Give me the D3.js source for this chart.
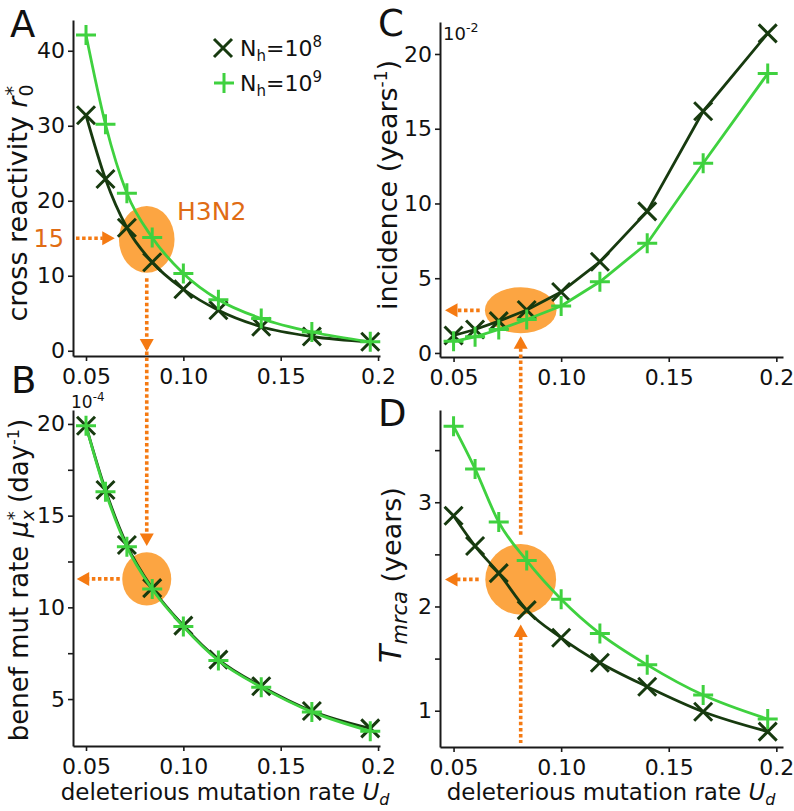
<!DOCTYPE html>
<html><head><meta charset="utf-8">
<script src="https://cdn.jsdelivr.net/npm/d3@7"></script>
<style>body{margin:0;background:#fff} text{font-family:"DejaVu Sans",sans-serif}</style>
</head><body><svg id="c" width="794" height="811"></svg>
<script>
// ---------------- data ----------------
const udValues = [0.05, 0.06, 0.071, 0.084, 0.1, 0.118, 0.14, 0.166, 0.196];
const seriesLabels = ["8", "9"]; // N_h = 10^8, 10^9
const crossReactivityN8 = [31.4, 22.9, 16.4, 11.8, 8.2, 5.4, 3.2, 1.9, 1.2];
const crossReactivityN9 = [42.1, 30.2, 21.0, 15.1, 10.3, 6.8, 4.3, 2.5, 1.2];
const benefMutN8 = [19.9, 16.4, 13.4, 11.05, 9.0, 7.15, 5.7, 4.35, 3.4];
const benefMutN9 = [19.9, 16.3, 13.3, 11.0, 8.95, 7.1, 5.65, 4.3, 3.25];
const incidenceN8 = [1.17, 1.57, 2.13, 2.87, 4.08, 6.1, 9.47, 16.17, 21.38];
const incidenceN9 = [0.78, 1.08, 1.57, 2.24, 3.14, 4.76, 7.34, 12.69, 18.69];
const tmrcaN8 = [2.87, 2.58, 2.32, 1.965, 1.70, 1.46, 1.23, 0.99, 0.80];
const tmrcaN9 = [3.73, 3.32, 2.81, 2.44, 2.07, 1.74, 1.44, 1.15, 0.92];

const xTickValues = [0.05, 0.10, 0.15, 0.2];
const xTickLabels = ["0.05", "0.10", "0.15", "0.2"];
const yTicksA = [0, 10, 20, 30, 40];
const yTicksB = [5, 10, 15, 20];
const yMinorB = [7.5, 12.5, 17.5];
const yTicksC = [0, 5, 10, 15, 20];
const yTicksD = [1, 2, 3];
const yMinorD = [1.5, 2.5, 3.5];

// H3N2 annotation values
const h3n2Ud = 0.0812;
const h3n2R0 = 15;
const h3n2Mu = 11.55;
const h3n2Inc = 2.85;
const h3n2Tmrca = 2.26;

// ---------------- style ----------------
const darkColor = "#173a0f", lightColor = "#3fd13f";
const blobColor = "#fca542", arrowColor = "#f57a12", annTextColor = "#e06c14";
const axisColor = "#1a1a1a";
const svg = d3.select("#c");

function panel(cfg) {
  const x = d3.scaleLinear().domain(cfg.xd).range([cfg.l, cfg.r]);
  const y = d3.scaleLinear().domain(cfg.yd).range([cfg.b, cfg.t]);
  return {x, y, cfg};
}

const A = panel({l:73, r:380, t:20, b:356, xd:[0.04332, 0.2010], yd:[-0.7, 44.1]});
const B = panel({l:73, r:380, t:410, b:746, xd:[0.04332, 0.2010], yd:[2.44, 20.76]});
const C = panel({l:440, r:783, t:22, b:357, xd:[0.0437, 0.2031], yd:[-0.27, 22.14]});
const D = panel({l:440, r:783, t:410, b:747, xd:[0.0437, 0.2031], yd:[0.652, 3.885]});

const gBlobs = svg.append("g");
const gData = svg.append("g");
const gAxes = svg.append("g");
const gAnn = svg.append("g");

function styleAxis(g) {
  g.attr("font-size", 22).attr("font-family", "DejaVu Sans").attr("fill", "none");
  g.select(".domain").attr("stroke", axisColor).attr("stroke-width", 2);
  g.selectAll(".tick line").attr("stroke", axisColor).attr("stroke-width", 1.6);
  g.selectAll(".tick text").attr("fill", "#111");
}

function drawAxes(P, yTicks, yMinor) {
  const {x, y, cfg} = P;
  gAxes.append("g").attr("transform", `translate(0,${cfg.b})`)
    .call(d3.axisBottom(x).tickValues(xTickValues).tickFormat((d, i) => xTickLabels[i])
      .tickSize(5).tickPadding(7).tickSizeOuter(0))
    .call(styleAxis);
  gAxes.append("g").attr("transform", `translate(${cfg.l},0)`)
    .call(d3.axisLeft(y).tickValues(yTicks).tickFormat(d3.format("d"))
      .tickSize(5).tickPadding(3).tickSizeOuter(0))
    .call(styleAxis);
  if (yMinor) {
    const gm = gAxes.append("g").attr("transform", `translate(${cfg.l},0)`)
      .call(d3.axisLeft(y).tickValues(yMinor).tickFormat("").tickSize(5).tickSizeOuter(0))
      .call(styleAxis);
    gm.select(".domain").remove();
  }
}

const xPath = "M-9,-9L9,9M-9,9L9,-9";
const plusPath = "M-10,0H10M0,-10V10";

function drawSeries(P, vals, color, markPath, curve) {
  const {x, y} = P;
  const pts = udValues.map((u, i) => [u, vals[i]]);
  gData.append("path").datum(pts)
    .attr("d", d3.line().x(d => x(d[0])).y(d => y(d[1])).curve(curve))
    .attr("fill", "none").attr("stroke", color).attr("stroke-width", 2.8)
    .attr("stroke-linejoin", "round");
  gData.append("g").selectAll("path").data(pts).join("path")
    .attr("transform", d => `translate(${x(d[0])},${y(d[1])})`)
    .attr("d", markPath).attr("stroke", color).attr("stroke-width", 3).attr("fill", "none");
}

function drawPanel(P, n8, n9, curve) {
  drawSeries(P, n8, darkColor, xPath, curve);
  drawSeries(P, n9, lightColor, plusPath, curve);
}

drawPanel(A, crossReactivityN8, crossReactivityN9, d3.curveMonotoneX);
drawPanel(B, benefMutN8, benefMutN9, d3.curveMonotoneX);
drawPanel(C, incidenceN8, incidenceN9, d3.curveLinear);
drawPanel(D, tmrcaN8, tmrcaN9, d3.curveMonotoneX);

drawAxes(A, yTicksA);
drawAxes(B, yTicksB, yMinorB);
drawAxes(C, yTicksC);
drawAxes(D, yTicksD, yMinorD);

// ---------------- annotations ----------------
function blob(P, u, v, rx, ry) {
  gBlobs.append("ellipse").attr("cx", P.x(u)).attr("cy", P.y(v))
    .attr("rx", rx).attr("ry", ry).attr("fill", blobColor);
}
blob(A, h3n2Ud, 14.85, 27.8, 33.3);
blob(B, h3n2Ud, h3n2Mu, 24.5, 26.7);
blob(C, h3n2Ud, h3n2Inc, 35.8, 23);
blob(D, h3n2Ud, h3n2Tmrca, 35.4, 35.3);

function dotted(x1, y1, x2, y2) {
  gAnn.append("line").attr("x1", x1).attr("y1", y1).attr("x2", x2).attr("y2", y2)
    .attr("stroke", arrowColor).attr("stroke-width", 3.6).attr("stroke-dasharray", "3.5,2.6");
}
function head(tx, ty, dir) { // dir: 'r','l','d','u'
  const L = 12.5, W = 7;
  let pts;
  if (dir === "r") pts = [[tx, ty], [tx - L, ty - W], [tx - L, ty + W]];
  if (dir === "l") pts = [[tx, ty], [tx + L, ty - W], [tx + L, ty + W]];
  if (dir === "d") pts = [[tx, ty], [tx - W, ty - L], [tx + W, ty - L]];
  if (dir === "u") pts = [[tx, ty], [tx - W, ty + L], [tx + W, ty + L]];
  gAnn.append("polygon").attr("points", pts.map(p => p.join(",")).join(" ")).attr("fill", arrowColor);
}

// Panel A: 15 -> arrow, vertical arrow down to B
const yA15 = A.y(h3n2R0);
dotted(76, yA15, A.x(h3n2Ud) - 44, yA15);
head(A.x(h3n2Ud) - 32, yA15, "r");
const xa = A.x(h3n2Ud);
dotted(xa, A.y(h3n2R0) + 40, xa, B.y(13.35) - 12);
head(xa, A.y(-0.1), "d");
head(xa, B.y(13.35), "d");
// Panel B: arrow left
const yBm = B.y(h3n2Mu);
dotted(B.x(h3n2Ud) - 27, yBm, 89, yBm);
head(76.7, yBm, "l");
// Panel C: arrow left, vertical line to D
const yCi = C.y(h3n2Inc);
dotted(C.x(h3n2Ud) - 41, yCi, 457, yCi);
head(445, yCi, "l");
const xc = C.x(h3n2Ud);
head(xc, C.y(h3n2Inc) + 26, "u");
dotted(xc, C.y(h3n2Inc) + 38, xc, D.y(h3n2Tmrca) - 44);
// Panel D
const yDt = D.y(h3n2Tmrca);
dotted(D.x(h3n2Ud) - 42, yDt, 457, yDt);
head(445, yDt, "l");
head(xc, D.y(h3n2Tmrca) + 45, "u");
dotted(xc, D.y(h3n2Tmrca) + 57, xc, 743);

gAnn.append("text").attr("x", 64).attr("y", yA15 + 9).attr("text-anchor", "end")
  .attr("font-size", 24).attr("fill", annTextColor).text("15");
gAnn.append("text").attr("x", 177).attr("y", 220)
  .attr("font-size", 25).attr("fill", annTextColor).text("H3N2");

// ---------------- labels ----------------
const lab = svg.append("g").attr("fill", "#111");
[["A", 10, 37], ["B", 11, 393], ["C", 378, 36], ["D", 378, 426]].forEach(([t, x, y]) => {
  lab.append("text").attr("x", x).attr("y", y).attr("font-size", 37).text(t);
});

// legend
const leg = svg.append("g");
leg.append("path").attr("transform", "translate(223,48)").attr("d", xPath)
  .attr("stroke", darkColor).attr("stroke-width", 3).attr("fill", "none");
leg.append("path").attr("transform", "translate(224,83)").attr("d", plusPath)
  .attr("stroke", lightColor).attr("stroke-width", 3).attr("fill", "none");
[[56, seriesLabels[0]], [91, seriesLabels[1]]].forEach(([by, e]) => {
  const t = leg.append("text").attr("x", 240).attr("y", by).attr("font-size", 22).attr("fill", "#111");
  t.append("tspan").text("N");
  t.append("tspan").attr("font-size", 15).attr("dy", 5).text("h");
  t.append("tspan").attr("dy", -5).text("=10");
  t.append("tspan").attr("font-size", 15).attr("dy", -9).text(e);
});

// exponent labels
function expo(x, y, base, ex, fs) {
  const t = lab.append("text").attr("x", x).attr("y", y).attr("font-size", fs);
  t.append("tspan").text(base);
  t.append("tspan").attr("font-size", fs * 0.7).attr("dy", -fs * 0.42).text(ex);
}
expo(71, 408, "10", "-4", 17);
expo(443, 40, "10", "-2", 18);

// x-axis titles
function xTitle(cx, by) {
  const t = lab.append("text").attr("x", cx).attr("y", by).attr("text-anchor", "middle").attr("font-size", 23);
  t.append("tspan").text("deleterious mutation rate  ");
  t.append("tspan").attr("font-style", "italic").text("U");
  t.append("tspan").attr("font-style", "italic").attr("font-size", 16).attr("dy", 5).text("d");
}
xTitle(225, 800);
xTitle(611, 800);

// y-axis titles (rotated)
function yTitle(bx, cy, fs) {
  return lab.append("text").attr("transform", `translate(${bx},${cy}) rotate(-90)`)
    .attr("text-anchor", "middle").attr("font-size", fs);
}
let t = yTitle(27, 203, 27);
t.append("tspan").text("cross reactivity ");
t.append("tspan").attr("font-style", "italic").text("r");
t.append("tspan").attr("font-size", 19).attr("dy", 6).text("0");
t.append("tspan").attr("font-size", 19).attr("dx", -11).attr("dy", -14).text("*");

t = yTitle(28, 580, 26);
t.append("tspan").text("benef mut rate ");
t.append("tspan").attr("font-style", "italic").text("μ");
t.append("tspan").attr("font-style", "italic").attr("font-size", 18).attr("dy", 6).text("x");
t.append("tspan").attr("font-size", 18).attr("dx", -10).attr("dy", -14).text("*");
t.append("tspan").attr("dy", 8).text(" (day");
t.append("tspan").attr("font-size", 16).attr("dy", -9).text("-1");
t.append("tspan").attr("dy", 9).text(")");

t = yTitle(397, 185, 27);
t.append("tspan").text("incidence (years");
t.append("tspan").attr("font-size", 17).attr("dy", -10).text("-1");
t.append("tspan").attr("dy", 10).text(")");

t = yTitle(401, 575, 27);
t.append("tspan").attr("font-style", "italic").attr("font-size", 30).text("T");
t.append("tspan").attr("font-style", "italic").attr("font-size", 21).attr("dy", 6).text("mrca");
t.append("tspan").attr("dy", -6).text("  (years)");
</script>
</body></html>
